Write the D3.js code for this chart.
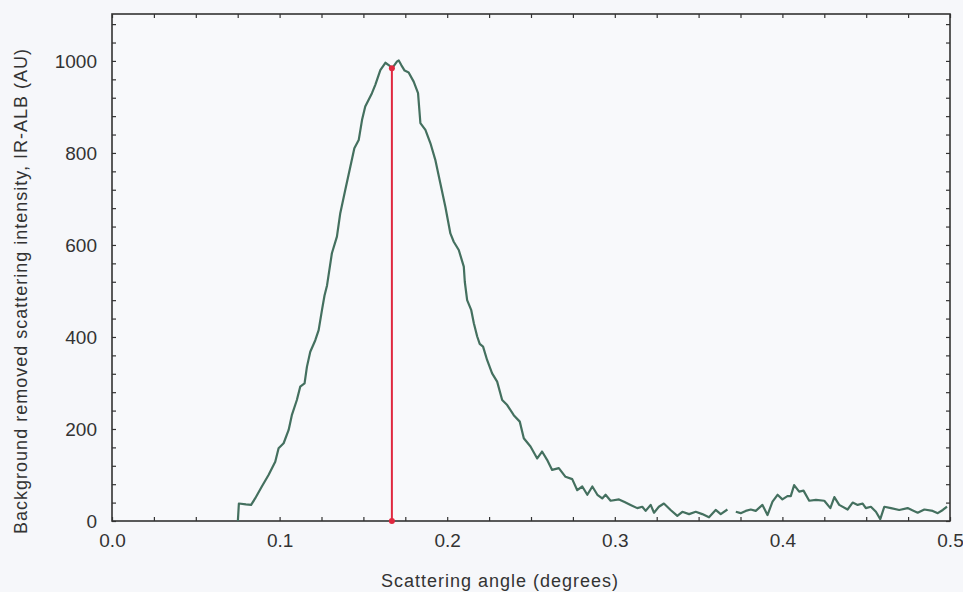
<!DOCTYPE html>
<html>
<head>
<meta charset="utf-8">
<script src="https://cdn.jsdelivr.net/npm/d3@7"></script>
<style>
  body { margin: 0; background: #f6f7fa; }
  svg { display: block; font-family: "Liberation Sans", Arial, sans-serif; }
</style>
</head>
<body>
<svg id="chart"></svg>
<script>
const margin = { top: 14, right: 13, bottom: 71, left: 112 };
const W = 963, H = 592;
const width = W - margin.left - margin.right;
const height = H - margin.top - margin.bottom;

// scattering profile (null = gap in the trace)
const angle = [0.0751, 0.0757, 0.0799, 0.083, 0.0854, 0.0894, 0.0934, 0.0974, 0.0994, 0.1024,
  0.1054, 0.1073, 0.1103, 0.1123, 0.1149, 0.1163, 0.1183, 0.1213, 0.1233, 0.1253,
  0.1268, 0.1283, 0.1312, 0.1342, 0.1362, 0.1392, 0.1422, 0.1446, 0.1472, 0.1492,
  0.1511, 0.1551, 0.1571, 0.1601, 0.1631, 0.1651, 0.1671, 0.1701, 0.1711, 0.1726,
  0.1746, 0.177, 0.18, 0.1826, 0.184, 0.187, 0.19, 0.1929, 0.1959, 0.1989,
  0.2019, 0.2039, 0.2069, 0.2099, 0.2105, 0.2119, 0.2143, 0.2159, 0.2179, 0.2194,
  0.2214, 0.2238, 0.2268, 0.2298, 0.2328, 0.2358, 0.2397, 0.2433, 0.2457, 0.2497,
  0.2537, 0.2566, 0.2596, 0.2626, 0.2666, 0.2706, 0.2746, 0.2776, 0.2806, 0.2836,
  0.2866, 0.2896, 0.2925, 0.2945, 0.2975, 0.3025, 0.3055, 0.3094, 0.3134, 0.3164,
  0.3184, 0.3214, 0.3234, 0.3263, 0.3293, 0.3333, 0.3373, 0.3403, 0.3443, 0.3483,
  0.3522, 0.3562, 0.3602, 0.3632, 0.3672, 0.3697, 0.3722, 0.3751, 0.3781, 0.3811,
  0.3841, 0.3881, 0.3911, 0.3941, 0.3971, 0.4, 0.403, 0.405, 0.407, 0.41,
  0.4126, 0.416, 0.42, 0.425, 0.4286, 0.431, 0.4339, 0.4389, 0.4419, 0.4449,
  0.4479, 0.4498, 0.4528, 0.4558, 0.4584, 0.4608, 0.4648, 0.4697, 0.4747, 0.4807,
  0.4847, 0.4897, 0.4927, 0.4957, 0.4982];
const intensity = [0, 38, 36, 35, 49, 75, 100, 129, 158, 169,
  198, 230, 263, 292, 299, 335, 368, 393, 415, 459,
  490, 512, 582, 618, 669, 720, 770, 810, 828, 872,
  901, 930, 948, 980, 996, 991, 984, 999, 1001, 991,
  979, 975, 955, 930, 865, 850, 821, 785, 734, 683,
  625, 607, 589, 553, 520, 480, 459, 430, 401, 385,
  379, 350, 321, 303, 263, 252, 230, 216, 180, 162,
  136, 151, 133, 111, 115, 96, 91, 67, 75, 57,
  75, 57, 49, 57, 44, 47, 42, 35, 28, 31,
  22, 35, 18, 31, 38, 24, 11, 20, 15, 20,
  15, 8, 24, 15, 25, null, 20, 17, 22, 25,
  22, 35, 13, 42, 57, 47, 54, 54, 78, 64,
  66, 44, 46, 44, 28, 52, 35, 25, 40, 35,
  38, 28, 31, 20, 4, 31, 28, 24, 28, 18,
  25, 22, 17, 24, 31];

// red marker at the peak
const peakAngle = 0.167;
const peakValue = 984;

const xTicks = [0, 0.1, 0.2, 0.3, 0.4, 0.5];
const yTicks = [0, 200, 400, 600, 800, 1000];

const svg = d3.select("#chart").attr("width", W).attr("height", H);

const x = d3.scaleLinear().domain([0, 0.5]).range([0, width]);
const y = d3.scaleLinear().domain([0, 1102]).range([height, 0]);

const g = svg.append("g").attr("transform", `translate(${margin.left},${margin.top})`);

g.append("rect")
    .attr("width", width)
    .attr("height", height)
    .attr("fill", "#f8f9fb");

// minor + major ticks, all pointing inwards on four sides
const xMinor = d3.range(0, 0.5001, 0.025);
const yMinor = d3.range(0, 1101, 40);

function tickAxis(axis, ticks, translate) {
    const a = g.append("g")
        .attr("transform", translate)
        .call(axis.tickValues(ticks).tickSize(-4).tickFormat(""));
    a.select(".domain").remove();
    a.selectAll("line").attr("stroke", "#333").attr("stroke-width", 1.2);
}
tickAxis(d3.axisBottom(x), xMinor, `translate(0,${height})`);
tickAxis(d3.axisTop(x), xMinor, "translate(0,0)");
tickAxis(d3.axisLeft(y), yMinor, "translate(0,0)");
tickAxis(d3.axisRight(y), yMinor, `translate(${width},0)`);

// tick labels
const xAx = g.append("g")
    .attr("transform", `translate(0,${height})`)
    .call(d3.axisBottom(x).tickValues(xTicks).tickSize(0).tickPadding(13).tickFormat(d3.format(".1f")));
xAx.select(".domain").remove();
xAx.selectAll("text").attr("font-size", 19).attr("fill", "#333").attr("font-family", "Liberation Sans, Arial, sans-serif");

const yAx = g.append("g")
    .call(d3.axisLeft(y).tickValues(yTicks).tickSize(0).tickPadding(15).tickFormat(d3.format("d")));
yAx.select(".domain").remove();
yAx.selectAll("text").attr("font-size", 19).attr("fill", "#333").attr("font-family", "Liberation Sans, Arial, sans-serif");

// frame
g.append("rect")
    .attr("width", width)
    .attr("height", height)
    .attr("fill", "none")
    .attr("stroke", "#333")
    .attr("stroke-width", 1.6);

// the profile
const pts = angle.map((a, i) => ({ a: a, v: intensity[i] }));
const line = d3.line()
    .defined(d => d.v !== null)
    .x(d => x(d.a))
    .y(d => y(d.v));

g.append("path")
    .datum(pts)
    .attr("d", line)
    .attr("fill", "none")
    .attr("stroke", "#44705f")
    .attr("stroke-width", 2.2)
    .attr("stroke-linejoin", "round");

// peak position line
g.append("line")
    .attr("x1", x(peakAngle)).attr("x2", x(peakAngle))
    .attr("y1", y(0)).attr("y2", y(peakValue))
    .attr("stroke", "#e0283f")
    .attr("stroke-width", 2);

g.selectAll(".peak-dot")
    .data([0, peakValue])
    .enter().append("circle")
    .attr("class", "peak-dot")
    .attr("cx", x(peakAngle))
    .attr("cy", d => y(d))
    .attr("r", 3)
    .attr("fill", "#e0283f");

// axis titles
svg.append("text")
    .attr("x", 500)
    .attr("y", 587)
    .attr("text-anchor", "middle")
    .attr("font-size", 18)
    .attr("letter-spacing", 1)
    .attr("fill", "#333")
    .text("Scattering angle (degrees)");

svg.append("text")
    .attr("transform", "translate(27,291) rotate(-90)")
    .attr("text-anchor", "middle")
    .attr("font-size", 18)
    .attr("letter-spacing", 1)
    .attr("fill", "#333")
    .text("Background removed scattering intensity, IR-ALB (AU)");
</script>
</body>
</html>
